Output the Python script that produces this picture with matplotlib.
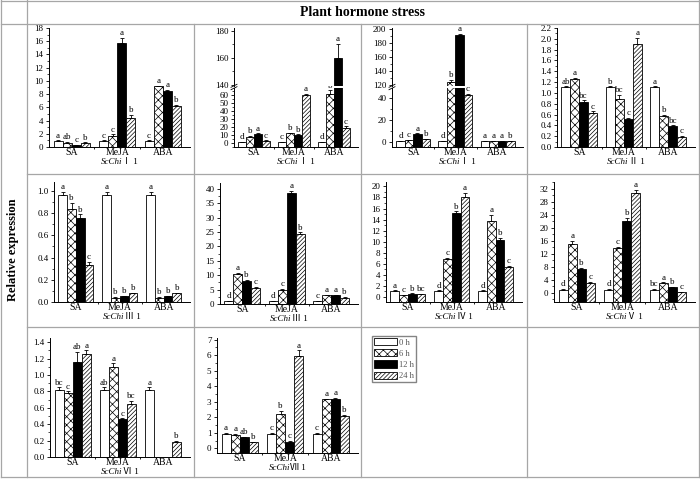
import numpy as np
import matplotlib
matplotlib.use("Agg")
import matplotlib.pyplot as plt
from matplotlib.lines import Line2D
from matplotlib.patches import Patch
from matplotlib.offsetbox import TextArea, HPacker, AnnotationBbox
from matplotlib.ticker import MultipleLocator, FormatStrFormatter

plt.rcParams['font.family'] = ['Liberation Serif', 'Noto Sans CJK SC']
plt.rcParams['hatch.linewidth'] = 0.5
plt.rcParams['axes.linewidth'] = 0.7

treatments = ["SA", "MeJA", "ABA"]
times = ["0 h", "6 h", "12 h", "24 h"]

# values: one row per treatment (SA, MeJA, ABA), one column per time
chiI1_val = [[0.9, 0.6, 0.3, 0.6], [0.9, 1.6, 15.7, 4.4], [0.9, 9.2, 8.5, 6.2]]
chiI1_err = [[0.1, 0.2, 0.05, 0.1], [0.1, 0.3, 0.8, 0.5], [0.1, 0.1, 0.1, 0.2]]
chiI1_let = [["a", "ab", "c", "b"], ["c", "c", "a", "b"], ["c", "a", "a", "b"]]

chiI2_val = [[1, 8, 11, 3], [1, 12, 10, 60], [1, 61, 160, 19]]
chiI2_err = [[0.3, 1, 1, 0.5], [0.3, 1, 1, 1.5], [0.3, 5, 10, 2]]
chiI2_let = [["d", "b", "a", "c"], ["c", "b", "b", "a"], ["d", "b", "a", "c"]]

chiI3_val = [[1, 2, 7.5, 2.5], [1, 125, 192, 43], [1, 1, 1, 1]]
chiI3_err = [[0.2, 0.3, 0.5, 0.3], [0.2, 3, 2, 1], [0.1, 0.1, 0.1, 0.1]]
chiI3_let = [["d", "c", "a", "b"], ["d", "b", "a", "c"], ["a", "a", "a", "b"]]

chiII1_val = [[1.1, 1.26, 0.83, 0.62], [1.1, 0.88, 0.52, 1.9], [1.1, 0.58, 0.38, 0.19]]
chiII1_err = [[0.02, 0.02, 0.03, 0.04], [0.02, 0.08, 0.02, 0.12], [0.02, 0.02, 0.02, 0.02]]
chiII1_let = [["ab", "a", "bc", "c"], ["b", "bc", "c", "a"], ["a", "b", "bc", "c"]]

chiIII1_val = [[0.96, 0.84, 0.76, 0.33], [0.96, 0.04, 0.05, 0.08], [0.96, 0.04, 0.05, 0.08]]
chiIII1_err = [[0.03, 0.05, 0.03, 0.03], [0.03, 0.005, 0.005, 0.005], [0.03, 0.005, 0.005, 0.005]]
chiIII1_let = [["a", "b", "b", "c"], ["a", "b", "b", "b"], ["a", "b", "b", "b"]]

chiIII2_val = [[1, 10.3, 8, 5.7], [1, 5, 38.7, 24.3], [1, 3, 3, 2.2]]
chiIII2_err = [[0.1, 0.5, 0.3, 0.3], [0.1, 0.3, 0.5, 0.6], [0.1, 0.2, 0.2, 0.2]]
chiIII2_let = [["d", "a", "b", "c"], ["d", "c", "a", "b"], ["c", "a", "a", "b"]]

chiIV1_val = [[1.1, 0.3, 0.6, 0.5], [1.1, 6.9, 15.2, 18], [1.1, 13.7, 10.3, 5.4]]
chiIV1_err = [[0.1, 0.05, 0.05, 0.05], [0.1, 0.2, 0.3, 0.8], [0.1, 1.1, 0.4, 0.2]]
chiIV1_let = [["a", "c", "b", "bc"], ["d", "c", "b", "a"], ["d", "a", "b", "c"]]

chiV1_val = [[1, 15, 7.2, 3], [1, 13.8, 22, 30.5], [1, 3, 1.8, 0.3]]
chiV1_err = [[0.2, 1.0, 0.5, 0.3], [0.2, 0.4, 1.0, 1.0], [0.2, 0.2, 0.1, 0.05]]
chiV1_let = [["d", "a", "b", "c"], ["d", "c", "b", "a"], ["bc", "a", "b", "c"]]

chiVI1_val = [[0.82, 0.78, 1.16, 1.26], [0.82, 1.1, 0.46, 0.65], [0.82, np.nan, np.nan, 0.18]]
chiVI1_err = [[0.03, 0.02, 0.12, 0.04], [0.03, 0.04, 0.01, 0.03], [0.03, np.nan, np.nan, 0.02]]
chiVI1_let = [["bc", "c", "ab", "a"], ["ab", "a", "c", "bc"], ["a", "", "", "b"]]

chiVII1_val = [[0.9, 0.85, 0.7, 0.4], [0.9, 2.2, 0.42, 5.95], [0.9, 3.15, 3.15, 2.05]]
chiVII1_err = [[0.1, 0.08, 0.05, 0.03], [0.1, 0.2, 0.05, 0.35], [0.1, 0.05, 0.1, 0.12]]
chiVII1_let = [["a", "a", "ab", "b"], ["c", "b", "c", "a"], ["c", "a", "a", "b"]]

colors = ["white", "white", "black", "white"]
hatches = [None, "xxxx", None, "////////"]
w = 0.2

W, H = 700, 490
fig = plt.figure(figsize=(7, 4.9), dpi=100)


def box(l, t, r, b):
    return [l / W, 1 - b / H, (r - l) / W, (b - t) / H]


def draw_bars(ax, vals, errs, lets, base):
    x = np.arange(1, 4)
    for j in range(4):
        v = np.array([row[j] for row in vals], dtype=float)
        e = np.array([row[j] for row in errs], dtype=float)
        xs = x + (j - 1.5) * w
        ax.bar(xs, v - base, width=w, bottom=base, color=colors[j], edgecolor="black",
               hatch=hatches[j], linewidth=0.6)
        ax.errorbar(xs, v, yerr=[np.zeros(3), e], fmt="none", ecolor="black",
                    elinewidth=0.6, capsize=1.5, capthick=0.6)
        for k in range(3):
            if lets[k][j] and not np.isnan(v[k]):
                ax.annotate(lets[k][j], (xs[k], v[k] + e[k]), xytext=(0, 0.5),
                            textcoords="offset points", ha="center", va="bottom",
                            fontsize=6.5)


def style_axis(ax, ylim, major, bottom_axis=True):
    ax.set_xlim(0.5, 3.6)
    ax.set_ylim(*ylim)
    ax.yaxis.set_major_locator(MultipleLocator(major))
    ax.yaxis.set_minor_locator(MultipleLocator(major / 2))
    ax.tick_params(axis="y", labelsize=6.5, length=2.5, width=0.6, pad=1.5)
    ax.tick_params(axis="y", which="minor", length=1.3, width=0.5)
    ax.spines["right"].set_visible(False)
    ax.spines["top"].set_visible(False)
    if bottom_axis:
        ax.set_xticks([1, 2, 3])
        ax.set_xticklabels(treatments, fontsize=7)
        ax.set_xticks([1.5, 2.5], minor=True)
        ax.tick_params(axis="x", length=0, pad=0.5)
        ax.tick_params(axis="x", which="minor", length=1.5, width=0.6)
    else:
        ax.spines["bottom"].set_visible(False)
        ax.set_xticks([])
        ax.set_xticks([], minor=True)


def gene_label(ax, numeral):
    t1 = TextArea("ScChi", textprops=dict(style="italic", fontsize=6.5,
                                          family="Liberation Serif"))
    t2 = TextArea(numeral + " 1", textprops=dict(fontsize=6.5,
                                                family=["Liberation Serif", "Noto Sans CJK SC"]))
    pack = HPacker(children=[t1, t2], pad=0, sep=0, align="baseline")
    ab = AnnotationBbox(pack, (0.5, 0), xycoords="axes fraction", xybox=(0, -10.5),
                        boxcoords="offset points", frameon=False,
                        box_alignment=(0.5, 0.5), pad=0)
    ax.add_artist(ab)


def break_marks(ax, ypix):
    x0 = ax.get_position().x0 * W
    for dy in (-1.2, 1.2):
        fig.add_artist(Line2D([(x0 - 3) / W, (x0 + 3) / W],
                              [1 - (ypix + dy + 1.5) / H, 1 - (ypix + dy - 1.5) / H],
                              color="black", lw=0.6))


# row 1
ax = fig.add_axes(box(49, 28, 190, 147))
draw_bars(ax, chiI1_val, chiI1_err, chiI1_let, 0)
style_axis(ax, (0, 18), 2)
gene_label(ax, "Ⅰ")

lo = fig.add_axes(box(234, 88, 358, 147))
hi = fig.add_axes(box(234, 28, 358, 86))
draw_bars(lo, chiI2_val, chiI2_err, chiI2_let, -5)
draw_bars(hi, chiI2_val, chiI2_err, chiI2_let, -5)
style_axis(lo, (-5, 69), 10)
style_axis(hi, (139, 182), 20, bottom_axis=False)
gene_label(lo, "Ⅰ")
break_marks(lo, 87)

lo = fig.add_axes(box(392, 88, 523, 147))
hi = fig.add_axes(box(392, 28, 523, 86))
draw_bars(lo, chiI3_val, chiI3_err, chiI3_let, -4.5)
draw_bars(hi, chiI3_val, chiI3_err, chiI3_let, -4.5)
style_axis(lo, (-4.5, 49), 20)
style_axis(hi, (119, 202), 20, bottom_axis=False)
gene_label(lo, "Ⅰ")
break_marks(lo, 87)

ax = fig.add_axes(box(557, 28, 695, 147))
draw_bars(ax, chiII1_val, chiII1_err, chiII1_let, 0)
style_axis(ax, (0, 2.2), 0.2)
ax.yaxis.set_major_formatter(FormatStrFormatter("%.1f"))
gene_label(ax, "Ⅱ")

# row 2
ax = fig.add_axes(box(54, 182, 190, 302))
draw_bars(ax, chiIII1_val, chiIII1_err, chiIII1_let, 0)
style_axis(ax, (0, 1.08), 0.2)
ax.yaxis.set_major_formatter(FormatStrFormatter("%.1f"))
gene_label(ax, "Ⅲ")

ax = fig.add_axes(box(220, 183, 358, 304))
draw_bars(ax, chiIII2_val, chiIII2_err, chiIII2_let, 0)
style_axis(ax, (0, 42), 5)
gene_label(ax, "Ⅲ")

ax = fig.add_axes(box(386, 182, 522, 302))
draw_bars(ax, chiIV1_val, chiIV1_err, chiIV1_let, -0.9)
style_axis(ax, (-0.9, 20.8), 2)
gene_label(ax, "Ⅳ")

ax = fig.add_axes(box(554, 182, 695, 302))
draw_bars(ax, chiV1_val, chiV1_err, chiV1_let, -2.8)
style_axis(ax, (-2.8, 34), 4)
gene_label(ax, "Ⅴ")

# row 3
ax = fig.add_axes(box(50, 338, 190, 457))
draw_bars(ax, chiVI1_val, chiVI1_err, chiVI1_let, 0)
style_axis(ax, (0, 1.45), 0.2)
ax.yaxis.set_major_formatter(FormatStrFormatter("%.1f"))
gene_label(ax, "Ⅵ")

ax = fig.add_axes(box(217, 338, 358, 453))
draw_bars(ax, chiVII1_val, chiVII1_err, chiVII1_let, -0.3)
style_axis(ax, (-0.3, 7.1), 1)
gene_label(ax, "Ⅶ")

# legend
handles = [Patch(facecolor=colors[j], edgecolor="black", hatch=hatches[j], linewidth=0.6)
           for j in range(4)]
fig.legend(handles, times, loc="upper left", bbox_to_anchor=(372 / W, 1 - 336 / H),
           frameon=True, fancybox=False, edgecolor="0.4", fontsize=6.2, labelcolor="0.35",
           handlelength=2.6, handleheight=0.9, labelspacing=0.3, borderpad=0.25,
           handletextpad=0.25, borderaxespad=0)

# table lines
grid = "0.65"
for xv in [1, 27, 194, 361, 527, 699]:
    y_top = 0 if xv in (1, 27, 699) else 24
    fig.add_artist(Line2D([xv / W, xv / W], [1 - y_top / H, 1 - 477 / H], color=grid, lw=0.9))
for yh in [1, 24, 174, 327, 477]:
    x_left = 1 if yh in (1, 24, 477) else 27
    fig.add_artist(Line2D([x_left / W, 699 / W], [1 - yh / H, 1 - yh / H], color=grid, lw=0.9))

fig.text(363 / W, 1 - 12 / H, "Plant hormone stress", ha="center", va="center",
         fontsize=10, fontweight="bold")
fig.text(13 / W, 1 - 250 / H, "Relative expression", ha="center", va="center",
         rotation=90, fontsize=9, fontweight="bold")

fig.savefig("out.png", dpi=100)
